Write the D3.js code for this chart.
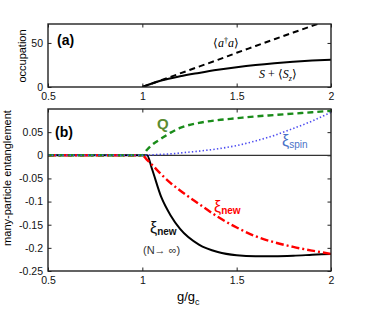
<!DOCTYPE html>
<html>
<head>
<meta charset="utf-8">
<script src="https://cdn.jsdelivr.net/npm/d3@7"></script>
<style>
  body { margin: 0; background: #fff; }
  svg { font-family: "Liberation Sans", Arial, sans-serif; }
  .tick text { font-size: 10.5px; fill: #111; }
</style>
</head>
<body>
<div class="chart"></div>
<script>
// panel (a) data
const gA = [1, 1.1, 1.2, 1.3, 1.4, 1.5, 1.6, 1.7, 1.8, 1.9, 2]
const photons = [0, 7.7, 15.4, 23.1, 30.8, 38.8, 46.5, 54.2, 61.8, 69.4, 77]
const spinOcc = [0, 7.3, 12.2, 16, 19.5, 22.5, 25, 27, 28.6, 30, 31]

// panel (b) data
const gB = [0.5, 1, 1.025, 1.05, 1.1, 1.15, 1.2, 1.3, 1.4, 1.5, 1.6, 1.7, 1.8, 1.9, 2]
const xiInf = [0, 0, 0, -0.028, -0.09, -0.13, -0.159, -0.193, -0.209, -0.216, -0.218, -0.218, -0.217, -0.215, -0.213]
const xiNew = [0, 0, -0.01, -0.02, -0.041, -0.06, -0.076, -0.105, -0.133, -0.156, -0.175, -0.188, -0.198, -0.206, -0.213]
const qVals = [0, 0, 0.012, 0.022, 0.036, 0.049, 0.059, 0.07, 0.076, 0.08, 0.084, 0.087, 0.09, 0.093, 0.096]
const xiSpin = [0, 0, 0, 0.001, 0.002, 0.003, 0.005, 0.009, 0.014, 0.021, 0.031, 0.043, 0.058, 0.074, 0.093]

const xTicks = [0.5, 1, 1.5, 2]
const yTicksA = [0, 50]
const yTicksB = [0.05, 0, -0.05, -0.1, -0.15, -0.2, -0.25]

const width = 366, height = 316
const left = 48, right = 331

const svg = d3.select('.chart').append('svg')
  .attr('width', width)
  .attr('height', height)

const x = d3.scaleLinear().domain([0.5, 2]).range([left, right])
const yA = d3.scaleLinear().domain([0, 71.5]).range([87, 24])
const yB = d3.scaleLinear().domain([-0.25, 0.1]).range([271, 109])

const fmt = d => String(d)

// draws inward ticks on all four sides
function frame(y, yTicks, top, bottom, id) {
  svg.append('defs').append('clipPath').attr('id', id)
    .append('rect').attr('x', left).attr('y', top)
    .attr('width', right - left).attr('height', bottom - top)

  svg.append('g').attr('transform', `translate(0,${bottom})`)
    .call(d3.axisBottom(x).tickValues(xTicks).tickFormat(fmt).tickSizeInner(-3.5).tickSizeOuter(0).tickPadding(6))
  svg.append('g').attr('transform', `translate(0,${top})`)
    .call(d3.axisTop(x).tickValues(xTicks).tickFormat('').tickSizeInner(-3.5).tickSizeOuter(0))
  svg.append('g').attr('transform', `translate(${left},0)`)
    .call(d3.axisLeft(y).tickValues(yTicks).tickFormat(fmt).tickSizeInner(-3.5).tickSizeOuter(0).tickPadding(5))
  svg.append('g').attr('transform', `translate(${right},0)`)
    .call(d3.axisRight(y).tickValues(yTicks).tickFormat('').tickSizeInner(-3.5).tickSizeOuter(0))

  svg.selectAll('.domain').remove()
  svg.selectAll('.tick line').attr('stroke', '#222')
}

frame(yA, yTicksA, 24, 87, 'clipA')
frame(yB, yTicksB, 109, 271, 'clipB')

// zero line in (b)
svg.append('line')
  .attr('x1', left).attr('x2', right)
  .attr('y1', yB(0)).attr('y2', yB(0))
  .attr('stroke', '#333').attr('stroke-width', 1.3)

function curve(xs, ys, y, clip, color, w, dash) {
  const line = d3.line()
    .x((d, i) => x(xs[i]))
    .y(d => y(d))
    .curve(d3.curveMonotoneX)
  svg.append('path')
    .attr('d', line(ys))
    .attr('clip-path', `url(#${clip})`)
    .attr('fill', 'none')
    .attr('stroke', color)
    .attr('stroke-width', w)
    .attr('stroke-dasharray', dash)
}

curve(gA, photons, yA, 'clipA', '#000', 2, '6,4')
curve(gA, spinOcc, yA, 'clipA', '#000', 2, null)

curve(gB, xiInf, yB, 'clipB', '#000', 2, null)
curve(gB, xiNew, yB, 'clipB', '#f00', 2.4, '8,3,2,3')
curve(gB, qVals, yB, 'clipB', '#1a8c1a', 2.4, '6,4')
curve(gB, xiSpin, yB, 'clipB', '#4b4bf0', 1.6, '1.4,2.2')

// frames on top
svg.append('rect').attr('x', left).attr('y', 24).attr('width', right - left).attr('height', 63)
  .attr('fill', 'none').attr('stroke', '#222').attr('stroke-width', 1.4)
svg.append('rect').attr('x', left).attr('y', 109).attr('width', right - left).attr('height', 162)
  .attr('fill', 'none').attr('stroke', '#222').attr('stroke-width', 1.4)

// axis titles
svg.append('text')
  .attr('transform', 'translate(26,56) rotate(-90)')
  .attr('text-anchor', 'middle')
  .style('font-size', '11px')
  .text('occupation')

svg.append('text')
  .attr('transform', 'translate(11,178) rotate(-90)')
  .attr('text-anchor', 'middle')
  .style('font-size', '11px')
  .text('many-particle entanglement')

const xl = svg.append('text')
  .attr('x', 177).attr('y', 301)
  .style('font-size', '13px')
xl.append('tspan').text('g/g')
xl.append('tspan').attr('dy', 4).style('font-size', '9px').text('c')

// panel letters
svg.append('text').attr('x', 57).attr('y', 45)
  .style('font-size', '14px').style('font-weight', 'bold').text('(a)')
svg.append('text').attr('x', 55).attr('y', 137)
  .style('font-size', '14px').style('font-weight', 'bold').text('(b)')

// curve labels, panel (a)
const serif = '"Liberation Serif", "Times New Roman", serif'
const t1 = svg.append('text').attr('x', 213).attr('y', 47)
  .style('font-family', serif).style('font-size', '12px')
t1.append('tspan').text('⟨')
t1.append('tspan').style('font-style', 'italic').text('a')
t1.append('tspan').attr('dy', -4).style('font-size', '8px').text('†')
t1.append('tspan').attr('dy', 4).style('font-style', 'italic').text('a')
t1.append('tspan').text('⟩')

const t2 = svg.append('text').attr('x', 259).attr('y', 78)
  .style('font-family', serif).style('font-size', '12px')
t2.append('tspan').style('font-style', 'italic').text('S')
t2.append('tspan').text(' + ⟨')
t2.append('tspan').style('font-style', 'italic').text('S')
t2.append('tspan').attr('dy', 3).style('font-size', '8px').style('font-style', 'italic').text('z')
t2.append('tspan').attr('dy', -3).text('⟩')

// curve labels, panel (b)
svg.append('text').attr('x', 157).attr('y', 129)
  .style('font-size', '15px').style('font-weight', 'bold').attr('fill', '#5a8c32').text('Q')

function xiLabel(px, py, sub, color, bold) {
  const t = svg.append('text').attr('x', px).attr('y', py).attr('fill', color)
  t.append('tspan').style('font-size', '16px').text('ξ')
  t.append('tspan').attr('dy', 2).style('font-size', '10px')
    .style('font-weight', bold ? 'bold' : 'normal').text(sub)
}
xiLabel(282, 146, 'spin', '#4a72c8', false)
xiLabel(214, 212, 'new', '#f00', true)
xiLabel(150, 233, 'new', '#111', true)

svg.append('text').attr('x', 143).attr('y', 254)
  .style('font-size', '11px').attr('fill', '#333').text('(N→ ∞)')
</script>
</body>
</html>
